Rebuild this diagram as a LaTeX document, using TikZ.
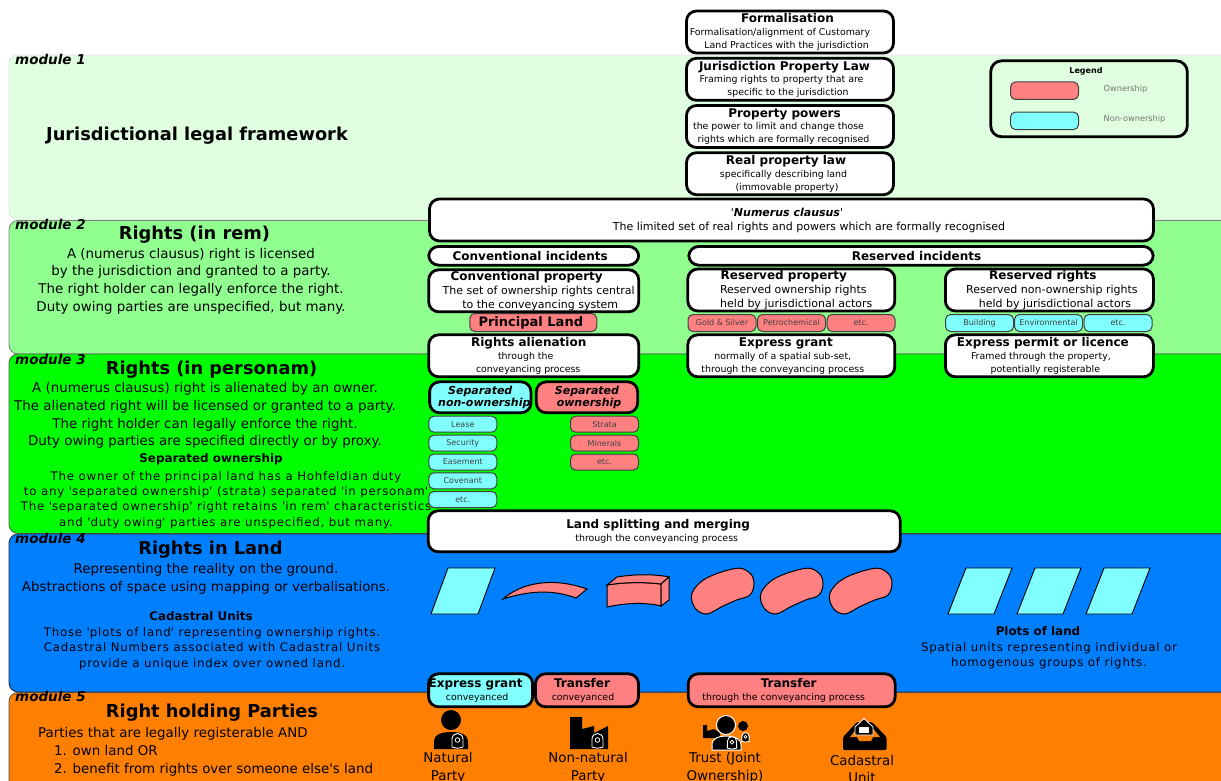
\documentclass[tikz,border=0pt]{standalone}
\usepackage{fontspec}
\setmainfont{DejaVu Sans}
\newcommand{\cardhead}[1]{{\bfseries\fontsize{12}{12.5}\selectfont #1}}
\newcommand{\nudge}[1]{\kern#1pt\relax\hbox{}}
\newcommand{\tick}{\textquotesingle}
\definecolor{landred}{HTML}{FF8080}
\definecolor{landcyan}{HTML}{80FFFF}
\definecolor{modpale}{HTML}{E0FFE0}
\definecolor{modlight}{HTML}{90FF90}
\definecolor{modgreen}{HTML}{00FF00}
\definecolor{modblue}{HTML}{0080FF}
\definecolor{modorange}{HTML}{FF8000}
\tikzset{
	modulebox/.style={rounded corners=9pt, line width=0.8pt},
	modulename/.style={anchor=west, inner sep=0pt, font=\bfseries\itshape\fontsize{13.5}{14}\selectfont},
	heading/.style={inner sep=0pt, font=\bfseries\fontsize{17.8}{20}\selectfont},
	bodytext/.style={inner sep=0pt, align=center, font=\fontsize{13.4}{17.6}\selectfont},
	subhead/.style={inner sep=0pt, font=\bfseries\fontsize{11.9}{14}\selectfont},
	widetext/.style={inner sep=0pt, align=center, font=\fontsize{11.8}{15.4}\selectfont\addfontfeature{LetterSpace=6.5}},
	card/.style={draw, fill=white, line width=2.8pt, rounded corners=10pt, inner sep=0pt, align=center,
		minimum width=207pt, minimum height=42pt, font=\fontsize{9.4}{12.8}\selectfont},
	cardbig/.style={card, font=\fontsize{11}{14}\selectfont},
	chip/.style={draw=black!75, line width=1pt, rounded corners=5pt, inner sep=0pt, text=black!75,
		minimum width=68pt, minimum height=17pt, font=\fontsize{8}{9}\selectfont},
	partylabel/.style={inner sep=0pt, align=center, font=\fontsize{13.4}{17.6}\selectfont},
	deedtag/.pic={
		\draw[white, fill=black, line width=0.9pt] (-5.5,6) -- (-5.5,-2) .. controls (-5.5,-5.5) and (-2.5,-7.5) .. (0,-7.5) .. controls (2.5,-7.5) and (5.5,-5.5) .. (5.5,-2) -- (5.5,6) .. controls (2,7.5) and (-2,7.5) .. (-5.5,6) -- cycle;
		\draw[white, line width=0.8pt] (0,-1) circle (2.3);
	},
}
\begin{document}
\begin{tikzpicture}[x=1pt,y=-1pt]

	\useasboundingbox (0,0) rectangle (1221,780);
	\clip (0,0) rectangle (1221,780);

	% module bands
	\draw[modulebox, fill=modpale, draw=black!12] (9,55) rectangle (1240,220);
	\draw[modulebox, fill=modlight, draw=black!50] (9,220.5) rectangle (1240,354);
	\draw[modulebox, fill=modgreen, draw=black!65] (9,354) rectangle (1240,533.5);
	\draw[modulebox, fill=modblue, draw=black!85] (9,534) rectangle (1240,692);
	\draw[modulebox, fill=modorange, draw=black!70] (9,692.5) rectangle (1240,800);

	\node (m1) [modulename] at (15,59) {module 1};
	\node (m2) [modulename] at (15,224.5) {module 2};
	\node (m3) [modulename] at (15,359.5) {module 3};
	\node (m4) [modulename] at (15,538.5) {module 4};
	\node (m5) [modulename] at (15,696.5) {module 5};

	% left column texts
	\node (juris) [heading] at (197,136) {Jurisdictional legal framework};

	\node (remhead) [heading] at (194.5,235) {Rights (in rem)};
	\node (remtext) [bodytext] at (191,281) {A (numerus clausus) right is licensed\\by the jurisdiction and granted to a party.\\The right holder can legally enforce the right.\\Duty owing parties are unspecified, but many.};

	\node (perhead) [heading] at (211.5,370) {Rights (in personam)};
	\node (pertext) [bodytext] at (205,415.5) {A (numerus clausus) right is alienated by an owner.\\The alienated right will be licensed or granted to a party.\\The right holder can legally enforce the right.\\Duty owing parties are specified directly or by proxy.};
	\node (sephead) [subhead] at (211,459) {Separated ownership};
	\node (septext) [widetext] at (226,500) {The owner of the principal land has a Hohfeldian duty\\to any \tick separated ownership\tick{} (strata) separated \tick in personam\tick\\The \tick separated ownership\tick{} right retains \tick in rem\tick{} characteristics\\and \tick duty owing\tick{} parties are unspecified, but many.};

	\node (landhead) [heading] at (210.5,550) {Rights in Land};
	\node (landtext) [bodytext] at (206,579) {Representing the reality on the ground.\\Abstractions of space using mapping or verbalisations.};
	\node (cadhead) [subhead] at (201,616) {Cadastral Units};
	\node (cadtext) [widetext] at (212,648.5) {Those \tick plots of land\tick{} representing ownership rights.\\Cadastral Numbers associated with Cadastral Units\\provide a unique index over owned land.};

	\node (parthead) [heading] at (212,713) {Right holding Parties};
	\node (parttext) [bodytext, anchor=north west, align=left] at (38,727.5) {Parties that are legally registerable AND\\\hspace*{16pt}1. own land OR\\\hspace*{16pt}2. benefit from rights over someone else\tick s land};

	\node (plothead) [subhead] at (1038,631) {Plots of land};
	\node (plottext) [widetext] at (1049,655.5) {Spatial units representing individual or\\homogenous groups of rights.};

	% chips under the cards
	\node (principal) [chip, fill=landred, text=black, minimum width=127pt, minimum height=18pt, font=\bfseries\fontsize{13}{14}\selectfont] at (533.3,322.5) {\raisebox{1.5pt}{Principal Land}\nudge{5}};
	\node (gold) [chip, fill=landred] at (722,323) {Gold \& Silver};
	\node (petro) [chip, fill=landred] at (791.5,323) {Petrochemical};
	\node (etcone) [chip, fill=landred] at (861,323) {etc.};
	\node (building) [chip, fill=landcyan] at (979.5,323) {Building};
	\node (enviro) [chip, fill=landcyan] at (1048.5,323) {Environmental};
	\node (etctwo) [chip, fill=landcyan] at (1118,323) {etc.};

	\node (lease) [chip, fill=landcyan, minimum height=16pt] at (462.8,424.2) {Lease};
	\node (security) [chip, fill=landcyan, minimum height=16pt] at (462.8,443.2) {Security};
	\node (easement) [chip, fill=landcyan, minimum height=16pt] at (462.8,462) {Easement};
	\node (covenant) [chip, fill=landcyan, minimum height=16pt] at (462.8,480.8) {Covenant};
	\node (etcthree) [chip, fill=landcyan, minimum height=16pt] at (462.8,499.5) {etc.};
	\node (strata) [chip, fill=landred, minimum height=16pt] at (604.5,424.2) {Strata};
	\node (minerals) [chip, fill=landred, minimum height=16pt] at (604.5,443.2) {Minerals};
	\node (etcfour) [chip, fill=landred, minimum height=16pt] at (604.5,462) {etc.};

	% cards
	\node (formal) [card] at (790,32) {\cardhead{Formalisation}\nudge{5}\\Formalisation/alignment of Customary\nudge{20}\\Land Practices with the jurisdiction\nudge{7}};
	\node (proplaw) [card] at (790,79.3) {\cardhead{Jurisdiction Property Law}\nudge{11}\\Framing rights to property that are\nudge{17}\\specific to the jurisdiction\nudge{4}};
	\node (powers) [card] at (790,126.5) {\cardhead{Property powers}\nudge{11}\\the power to limit and change those\nudge{23}\\rights which are formally recognised\nudge{13}};
	\node (realprop) [card] at (790,173.7) {\cardhead{Real property law}\nudge{8}\\specifically describing land\nudge{13}\\(immovable property)\nudge{6}};
	\node (numerus) [cardbig, minimum width=724pt] at (791.5,220) {\tick\textbf{\textit{Numerus clausus}}\tick\nudge{9}\\The limited set of real rights and powers which are formally recognised\nudge{-35}};

	\node (convinc) [card, minimum width=210pt, minimum height=18.7pt] at (533.7,255.8) {\cardhead{Conventional incidents}\nudge{7}};
	\node (resinc) [card, minimum width=464.5pt, minimum height=18.7pt] at (921,255.8) {\cardhead{Reserved incidents}\nudge{9}};
	\node (convprop) [cardbig, minimum width=210pt] at (533.7,290.8) {\cardhead{Conventional property}\nudge{14}\\The set of ownership rights central\nudge{-10}\\to the conveyancing system\nudge{-13}};
	\node (resprop) [cardbig] at (791.3,290) {\cardhead{Reserved property}\nudge{15}\\Reserved ownership rights\nudge{-4}\\held by jurisdictional actors\nudge{-10}};
	\node (resright) [cardbig, minimum width=208pt] at (1049.4,290) {\cardhead{Reserved rights}\nudge{13}\\Reserved non-ownership rights\nudge{-5}\\held by jurisdictional actors\nudge{-11}};

	\node (alien) [card, minimum width=210pt] at (533.7,355.8) {\cardhead{Rights alienation}\nudge{10}\\through the\nudge{16}\\conveyancing process\nudge{11}};
	\node (grantres) [card] at (791.3,355.8) {\cardhead{Express grant}\nudge{11}\\normally of a spatial sub-set,\nudge{17}\\through the conveyancing process\nudge{17}};
	\node (permit) [card, minimum width=208pt] at (1049.4,355.8) {\cardhead{Express permit or licence}\nudge{13}\\Framed through the property,\nudge{17}\\potentially registerable\nudge{8}};

	\node (sepnon) [card, fill=landcyan, minimum width=101.4pt, minimum height=31pt, font=\bfseries\itshape\fontsize{11}{12}\selectfont] at (480.3,397.3) {Separated\\non-ownership\nudge{-8}};
	\node (sepown) [card, fill=landred, minimum width=101.4pt, minimum height=31pt, font=\bfseries\itshape\fontsize{11}{12}\selectfont] at (587,397.3) {Separated\\ownership\nudge{-4}};

	\node (splitting) [card, minimum width=472pt, minimum height=41pt] at (664.2,531.3) {\cardhead{Land splitting and merging}\nudge{12}\\through the conveyancing process\nudge{15}};

	\node (grantcon) [card, fill=landcyan, minimum width=104pt, minimum height=33pt] at (480.6,690.3) {\cardhead{Express grant}\nudge{10}\\conveyanced\nudge{7}};
	\node (transone) [card, fill=landred, minimum width=103pt, minimum height=33pt] at (587,690.3) {\cardhead{Transfer}\nudge{10}\\conveyanced\nudge{8}};
	\node (transtwo) [card, fill=landred, minimum height=33pt] at (791.7,690.3) {\cardhead{Transfer}\nudge{6}\\through the conveyancing process\nudge{16}};

	% legend
	\node (legend) [draw, line width=2.8pt, rounded corners=11pt, minimum width=196.6pt, minimum height=76pt] at (1089,98.8) {};
	\node (legendhead) [inner sep=0pt, font=\bfseries\fontsize{8}{9}\selectfont] at (1086,71.5) {Legend};
	\node (legown) [chip, fill=landred, minimum height=17.5pt] at (1044.5,90.7) {};
	\node (legnon) [chip, fill=landcyan, minimum height=17.5pt] at (1044.5,120.8) {};
	\node (legownt) [inner sep=0pt, text=black!55, font=\fontsize{8.2}{9}\selectfont] at (1125.5,89) {Ownership};
	\node (legnont) [inner sep=0pt, text=black!55, font=\fontsize{8.2}{9}\selectfont] at (1134.5,119.5) {Non-ownership};

	% land shapes
	\foreach \dx in {0,69,138}
		\draw[fill=landcyan, line width=0.9pt] (948+\dx,614) -- (966+\dx,568) -- (1012+\dx,568) -- (994+\dx,614) -- cycle;
	\draw[fill=landcyan, line width=0.9pt] (431,614) -- (448,568) -- (495,568) -- (478,614) -- cycle;
	\draw[fill=landred, line width=1pt] (503,599) .. controls (520,584) and (550,576) .. (587,589) -- (576,598) .. controls (552,589) and (528,591) .. (503,599) -- cycle;
	\draw[fill=landred, line width=1pt] (607,585) .. controls (625,582) and (645,582) .. (661,584) -- (661,606) .. controls (645,602) and (625,603) .. (607,607) -- cycle;
	\draw[fill=landred, line width=1pt] (607,585) -- (617,577) .. controls (635,574) and (655,574) .. (669,577) -- (661,584) .. controls (645,582) and (625,582) .. (607,585) -- cycle;
	\draw[fill=landred, line width=1pt] (669,577) -- (669,600) -- (661,606) -- (661,584) -- cycle;
	\foreach \dx in {0,69,138}
		\draw[fill=landred, line width=1pt] plot[smooth cycle, tension=0.6] coordinates {(692+\dx,593) (706.7+\dx,578) (736.7+\dx,568.3) (750+\dx,573.3) (754+\dx,583.3) (750+\dx,595) (736.7+\dx,600) (721.7+\dx,606.7) (706.7+\dx,614) (695+\dx,608)};

	% party icons
	\fill (451,720) circle (10);
	\fill (434,749) -- (434,742) .. controls (434,734) and (442,732) .. (451,732) .. controls (460,732) and (468,734) .. (468,742) -- (468,749) -- cycle;
	\pic at (457.5,741) {deedtag};

	\fill (570,749) -- (570,717) -- (582,717) -- (582,729) -- (594,726) -- (594,733) -- (608,726) -- (608,749) -- cycle;
	\pic at (597.5,741) {deedtag};

	\fill (703,738) -- (703,725) -- (707,725) -- (707,731) -- (714,729) -- (720,733) -- (720,738) -- cycle;
	\fill (743,726) circle (5);
	\draw[white, fill=black, line width=1pt] (726,725) circle (9.5);
	\draw[white, fill=black, line width=1pt] (712,750) -- (712,745) .. controls (712,738) and (719,736) .. (726,736) .. controls (733,736) and (741,738) .. (741,745) -- (741,750) -- cycle;
	\pic[scale=0.85] at (732,743) {deedtag};
	\pic[scale=0.65] at (745.5,737.5) {deedtag};

	\fill[rounded corners=1.5pt] (843,737) -- (857,722) -- (872,722) -- (886.5,737) -- (886.5,750) -- (843,750) -- cycle;
	\fill[modorange] (850,737) -- (859,726) -- (871,726) -- (880,737) -- (873,737) -- (871,741) -- (859,741) -- (857,737) -- cycle;
	\draw[white, fill=black, line width=0.8pt] (855,727) -- (864,718.5) -- (873,727) -- (873,735) -- (855,735) -- cycle;
	\fill[white] (859,727) rectangle (869,733);

	\node (natural) [partylabel] at (448,768) {Natural\\Party};
	\node (nonnatural) [partylabel] at (588,768) {Non-natural\\Party};
	\node (trust) [partylabel] at (725,768) {Trust (Joint\\Ownership)};
	\node (cadunit) [partylabel] at (862,769) {Cadastral\\Unit};

\end{tikzpicture}
\end{document}
